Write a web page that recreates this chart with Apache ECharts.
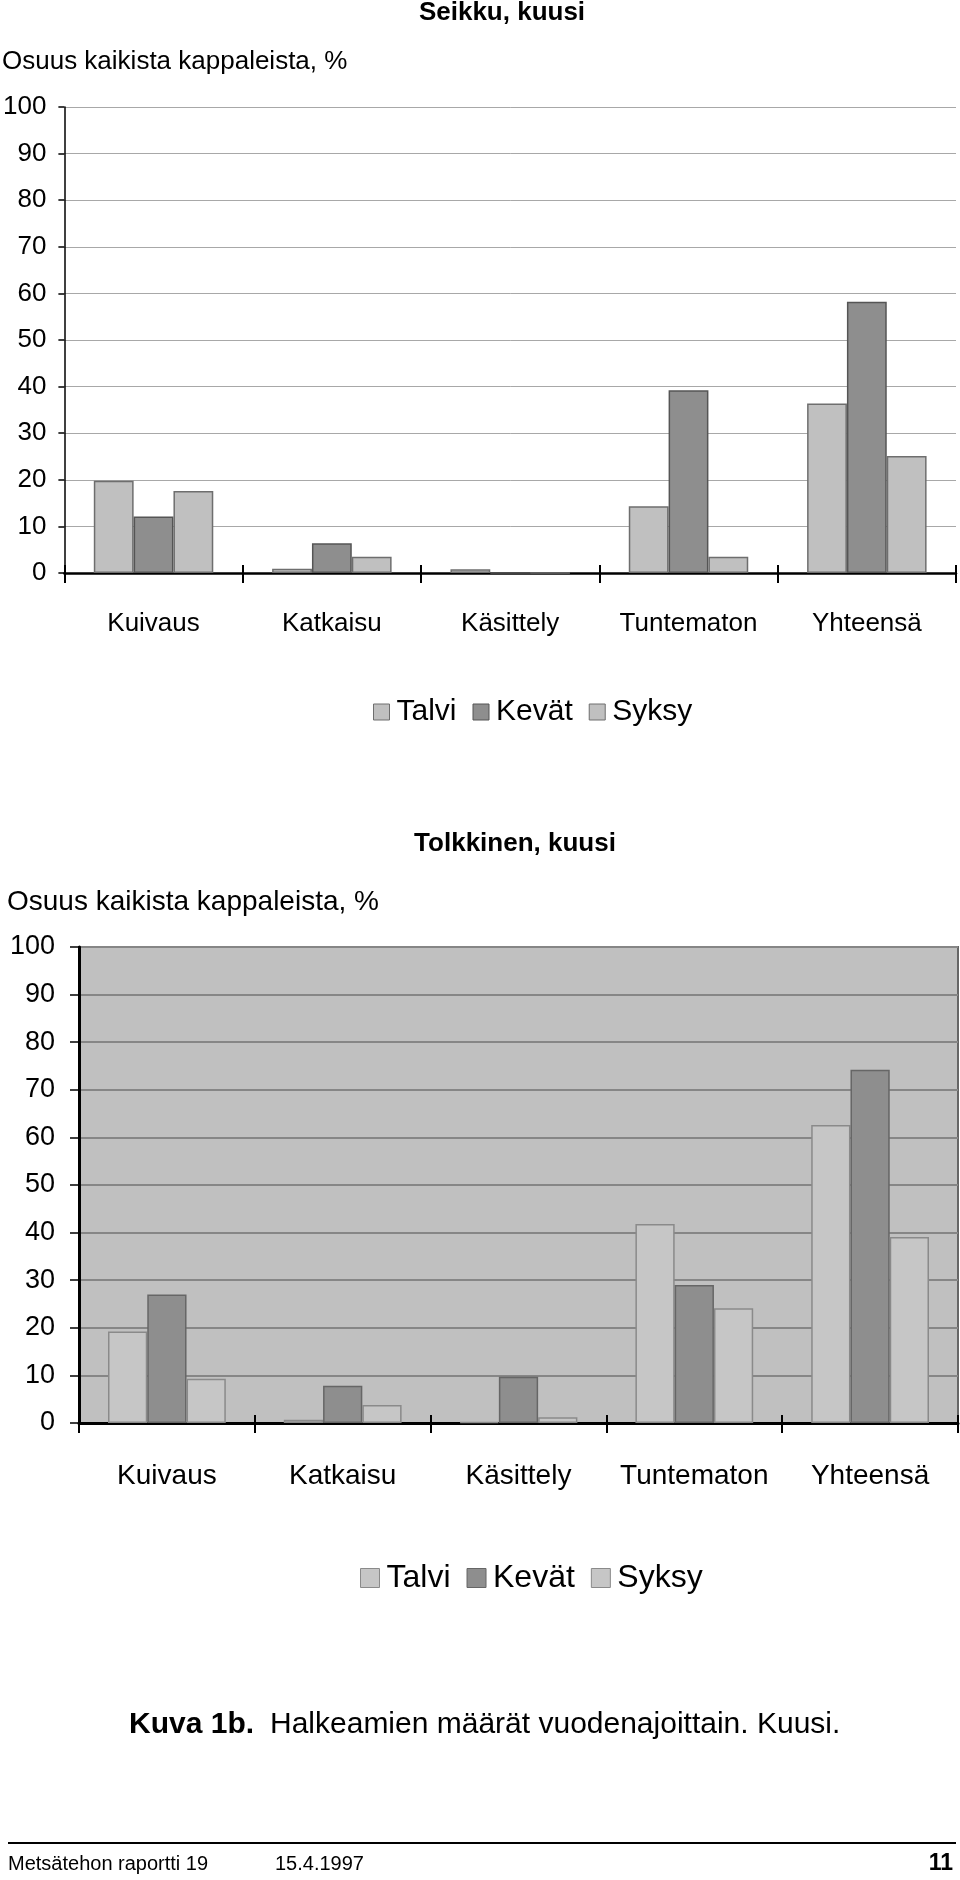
<!DOCTYPE html>
<html>
<head>
<meta charset="utf-8">
<script src="https://cdn.jsdelivr.net/npm/echarts@6/dist/echarts.min.js"></script>
<style>
html,body{margin:0;padding:0;background:#fff;}
#chart{width:960px;height:1880px;}
</style>
</head>
<body>
<div id="chart"></div>
<script>
// ---- data ----
const categories = ['Kuivaus', 'Katkaisu', 'Käsittely', 'Tuntematon', 'Yhteensä'];
const seasons = ['Talvi', 'Kevät', 'Syksy'];
const seikkuTalvi = [19.8, 0.9, 0.8, 14.3, 36.4];
const seikkuKevat = [12.1, 6.4, 0, 39.2, 58.2];
const seikkuSyksy = [17.6, 3.5, 0, 3.5, 25.1];
const tolkkinenTalvi = [19.2, 0.7, 0.2, 41.8, 62.6];
const tolkkinenKevat = [27.0, 7.8, 9.7, 29.0, 74.2];
const tolkkinenSyksy = [9.3, 3.8, 1.2, 24.1, 39.1];
const titleSeikku = 'Seikku, kuusi';
const titleTolkkinen = 'Tolkkinen, kuusi';
const yAxisName = 'Osuus kaikista kappaleista, %';
const captionBold = 'Kuva 1b.';
const captionText = 'Halkeamien määrät vuodenajoittain. Kuusi.';
const footerLeft = 'Metsätehon raportti 19';
const footerDate = '15.4.1997';
const footerPage = '11';

const FF = '"Liberation Sans", Arial, Helvetica, sans-serif';

const style1 = {
  light: { color: '#c0c0c0', borderColor: '#6e6e6e', borderWidth: 1.5 },
  dark: { color: '#8e8e8e', borderColor: '#555555', borderWidth: 1.5 }
};
const style2 = {
  light: { color: '#c6c6c6', borderColor: '#8a8a8a', borderWidth: 1.5 },
  dark: { color: '#8e8e8e', borderColor: '#666666', borderWidth: 1.5 }
};

function txt(text, x, y, size, opts) {
  opts = opts || {};
  const align = opts.align || 'left';
  return {
    type: 'text', x: x, y: y, silent: true,
    style: {
      text: text, fill: '#000',
      fontSize: size, fontFamily: FF, fontWeight: opts.bold ? 'bold' : 'normal',
      align: align, textAlign: align,
      verticalAlign: 'middle', textVerticalAlign: 'middle'
    }
  };
}

function catAxis(gridIndex, labelSize, labelMargin, lineWidth) {
  return {
    type: 'category', gridIndex: gridIndex, data: categories, position: 'bottom',
    boundaryGap: true,
    axisLine: { show: true, onZero: false, lineStyle: { color: '#000', width: lineWidth } },
    axisTick: { show: true, inside: false, length: 10, lineStyle: { color: '#000', width: 2 } },
    axisLabel: { show: true, color: '#000', fontSize: labelSize, fontFamily: FF, margin: labelMargin, interval: 0 },
    splitLine: { show: false }
  };
}
function tickAxis(gridIndex) {
  return {
    type: 'category', gridIndex: gridIndex, data: categories, position: 'bottom',
    boundaryGap: true,
    axisLine: { show: false },
    axisTick: { show: true, inside: true, length: 8, lineStyle: { color: '#000', width: 2 } },
    axisLabel: { show: false },
    splitLine: { show: false }
  };
}
function valAxis(gridIndex, labelSize, labelMargin, tickLen, lineWidth, gridColor, gridWidth) {
  return {
    type: 'value', gridIndex: gridIndex, min: 0, max: 100, interval: 10,
    axisLine: { show: true, lineStyle: { color: '#000', width: lineWidth } },
    axisTick: { show: true, inside: false, length: tickLen, lineStyle: { color: '#000', width: 1.5 } },
    axisLabel: { color: '#000', fontSize: labelSize, fontFamily: FF, margin: labelMargin },
    splitLine: { show: true, lineStyle: { color: gridColor, width: gridWidth } }
  };
}
function bar(name, data, xi, yi, st) {
  return {
    type: 'bar', name: name, data: data, xAxisIndex: xi, yAxisIndex: yi,
    barGap: '0%', barCategoryGap: '33%',
    itemStyle: st, emphasis: { disabled: true }, animation: false
  };
}
function legendItems(st) {
  return seasons.map((s, i) => ({
    name: s,
    itemStyle: i === 1 ? { color: st.dark.color, borderColor: st.dark.borderColor, borderWidth: 1 }
                       : { color: st.light.color, borderColor: st.light.borderColor, borderWidth: 1 }
  }));
}

const chart = echarts.init(document.getElementById('chart'), null, { renderer: 'canvas' });
chart.setOption({
  backgroundColor: '#ffffff',
  animation: false,
  textStyle: { fontFamily: FF },
  grid: [
    { left: 62, right: 4, top: 107, height: 466, containLabel: false },
    { left: 79, right: 2, top: 947, height: 476, containLabel: false,
      show: true, backgroundColor: '#c0c0c0', borderColor: '#666666', borderWidth: 2 }
  ],
  xAxis: [
    catAxis(0, 26, 38, 2.5),
    tickAxis(0),
    catAxis(1, 28, 39, 3),
    tickAxis(1)
  ],
  yAxis: [
    valAxis(0, 26, 18, 6, 1.5, '#a8a8a8', 1),
    valAxis(1, 27, 24, 9, 3, '#868686', 2)
  ],
  legend: [
    { data: legendItems(style1), left: 373, top: 695, padding: 0, icon: 'rect',
      itemWidth: 16, itemHeight: 16, itemGap: 16, selectedMode: false,
      textStyle: { color: '#000', fontSize: 30, fontFamily: FF, lineHeight: 34, padding: [0, 0, 0, 2] } },
    { data: legendItems(style2), left: 360, top: 1560, padding: 0, icon: 'rect',
      itemWidth: 19, itemHeight: 19, itemGap: 16, selectedMode: false,
      textStyle: { color: '#000', fontSize: 32, fontFamily: FF, lineHeight: 36, padding: [0, 0, 0, 2] } }
  ],
  series: [
    bar(seasons[0], seikkuTalvi, 0, 0, style1.light),
    bar(seasons[1], seikkuKevat, 0, 0, style1.dark),
    bar(seasons[2], seikkuSyksy, 0, 0, style1.light),
    bar(seasons[0], tolkkinenTalvi, 2, 1, style2.light),
    bar(seasons[1], tolkkinenKevat, 2, 1, style2.dark),
    bar(seasons[2], tolkkinenSyksy, 2, 1, style2.light)
  ],
  graphic: [
    txt(titleSeikku, 502, 13, 26, { bold: true, align: 'center' }),
    txt(yAxisName, 2, 62, 26),
    txt(titleTolkkinen, 515, 844, 26, { bold: true, align: 'center' }),
    txt(yAxisName, 7, 902, 28),
    txt(captionBold, 129, 1725, 30, { bold: true }),
    txt(captionText, 270, 1725, 30),
    {
      type: 'line', silent: true,
      shape: { x1: 8, y1: 1843, x2: 956, y2: 1843 },
      style: { stroke: '#000', lineWidth: 2 }
    },
    txt(footerLeft, 8, 1864, 20),
    txt(footerDate, 275, 1864, 20),
    txt(footerPage, 953, 1864, 23, { bold: true, align: 'right' })
  ]
});
</script>
</body>
</html>
